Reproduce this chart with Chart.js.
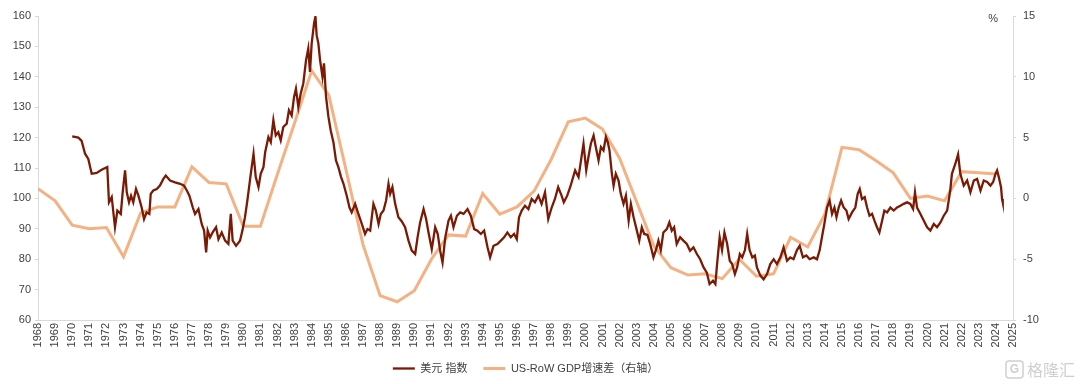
<!DOCTYPE html>
<html>
<head>
<meta charset="utf-8">
<script src="https://cdn.jsdelivr.net/npm/chart.js@4.4.1/dist/chart.umd.min.js"></script>
<style>
  html, body { margin: 0; padding: 0; background: #fff; }
</style>
</head>
<body>
<canvas id="graph" width="1080" height="384"></canvas>
<script>
const ctx = document.getElementById('graph');

const FONT = '"Liberation Sans", Arial, "Noto Sans CJK SC", sans-serif';
const TEXT_COLOR = '#3f3f3f';
const AXIS_COLOR = '#d9d9d9';

// 美元指数 (左轴)
const dxyYears = [
  1970.00, 1970.36, 1970.55, 1970.75, 1970.94, 1971.14, 1971.43, 1971.72, 1972.05, 1972.15,
  1972.31, 1972.50, 1972.64, 1972.84, 1972.95, 1973.09, 1973.19, 1973.32, 1973.44, 1973.57,
  1973.73, 1973.87, 1974.06, 1974.20, 1974.35, 1974.51, 1974.59, 1974.74, 1974.94, 1975.13,
  1975.33, 1975.47, 1975.72, 1976.01, 1976.31, 1976.54, 1976.70, 1976.85, 1977.05, 1977.18,
  1977.38, 1977.57, 1977.71, 1977.83, 1977.92, 1978.06, 1978.21, 1978.41, 1978.55, 1978.74,
  1978.94, 1979.13, 1979.27, 1979.38, 1979.58, 1979.81, 1979.95, 1980.10, 1980.24, 1980.44,
  1980.60, 1980.73, 1980.89, 1981.02, 1981.18, 1981.28, 1981.47, 1981.61, 1981.76, 1981.90,
  1982.05, 1982.19, 1982.34, 1982.54, 1982.67, 1982.83, 1982.97, 1983.08, 1983.22, 1983.36,
  1983.51, 1983.67, 1983.80, 1983.90, 1984.00, 1984.14, 1984.22, 1984.29, 1984.39, 1984.49,
  1984.63, 1984.72, 1984.84, 1984.98, 1985.11, 1985.27, 1985.42, 1985.56, 1985.72, 1985.86,
  1986.05, 1986.21, 1986.34, 1986.54, 1986.73, 1986.93, 1987.12, 1987.26, 1987.42, 1987.61,
  1987.75, 1987.91, 1988.04, 1988.20, 1988.35, 1988.49, 1988.59, 1988.72, 1988.88, 1989.07,
  1989.27, 1989.46, 1989.66, 1989.85, 1990.05, 1990.19, 1990.34, 1990.54, 1990.69, 1990.83,
  1991.02, 1991.22, 1991.37, 1991.51, 1991.65, 1991.81, 1992.00, 1992.14, 1992.29, 1992.49,
  1992.68, 1992.88, 1993.11, 1993.30, 1993.50, 1993.69, 1993.89, 1994.08, 1994.28, 1994.43,
  1994.63, 1994.86, 1995.06, 1995.25, 1995.44, 1995.64, 1995.83, 1995.99, 1996.12, 1996.28,
  1996.47, 1996.67, 1996.86, 1997.05, 1997.25, 1997.44, 1997.64, 1997.83, 1998.03, 1998.22,
  1998.41, 1998.61, 1998.74, 1998.94, 1999.13, 1999.40, 1999.60, 1999.89, 2000.05, 2000.18,
  2000.32, 2000.48, 2000.61, 2000.77, 2000.91, 2001.06, 2001.20, 2001.31, 2001.41, 2001.55,
  2001.65, 2001.78, 2001.94, 2002.07, 2002.23, 2002.37, 2002.53, 2002.66, 2002.82, 2003.01,
  2003.15, 2003.30, 2003.44, 2003.63, 2003.79, 2003.98, 2004.14, 2004.27, 2004.41, 2004.56,
  2004.76, 2004.91, 2005.05, 2005.19, 2005.34, 2005.54, 2005.73, 2005.93, 2006.12, 2006.32,
  2006.52, 2006.71, 2006.91, 2007.10, 2007.26, 2007.46, 2007.60, 2007.70, 2007.85, 2007.99,
  2008.13, 2008.29, 2008.44, 2008.58, 2008.74, 2008.87, 2009.03, 2009.17, 2009.33, 2009.46,
  2009.60, 2009.76, 2009.91, 2010.03, 2010.23, 2010.42, 2010.62, 2010.81, 2011.01, 2011.20,
  2011.40, 2011.59, 2011.79, 2011.98, 2012.17, 2012.37, 2012.53, 2012.72, 2012.92, 2013.11,
  2013.35, 2013.54, 2013.70, 2013.83, 2013.97, 2014.13, 2014.28, 2014.42, 2014.56, 2014.68,
  2014.81, 2014.95, 2015.10, 2015.26, 2015.39, 2015.59, 2015.78, 2015.92, 2016.04, 2016.17,
  2016.33, 2016.47, 2016.61, 2016.76, 2016.90, 2017.05, 2017.19, 2017.35, 2017.48, 2017.64,
  2017.83, 2018.03, 2018.22, 2018.42, 2018.61, 2018.81, 2019.00, 2019.16, 2019.27, 2019.39,
  2019.59, 2019.78, 2019.98, 2020.17, 2020.37, 2020.56, 2020.76, 2020.95, 2021.15, 2021.33,
  2021.43, 2021.63, 2021.79, 2021.92, 2022.12, 2022.32, 2022.51, 2022.71, 2022.90, 2023.10,
  2023.29, 2023.49, 2023.68, 2023.84, 2023.98, 2024.07, 2024.17, 2024.30, 2024.36, 2024.40
];
const dxyValues = [
  120.4, 120.0, 118.9, 114.7, 113.0, 108.1, 108.4, 109.4, 110.3, 98.7,
  100.4, 90.5, 96.0, 94.9, 102.0, 109.2, 102.0, 98.7, 100.9, 98.7,
  103.1, 100.9, 97.0, 93.2, 95.4, 94.9, 101.5, 102.6, 103.1, 104.2,
  106.4, 107.5, 105.9, 105.3, 104.8, 104.2, 102.6, 100.9, 97.0, 94.9,
  96.5, 91.6, 89.4, 82.2, 89.4, 87.2, 88.8, 90.5, 86.6, 88.8,
  86.1, 85.0, 94.9, 86.1, 84.4, 86.1, 89.4, 93.8, 99.3, 108.1,
  114.7, 107.0, 103.7, 108.1, 110.3, 115.2, 120.2, 118.5, 125.7, 120.7,
  121.8, 119.1, 123.5, 124.6, 129.0, 127.3, 133.4, 136.1, 130.1, 134.5,
  137.8, 145.5, 149.3, 141.6, 151.0, 157.6, 159.8, 153.7, 151.0, 145.5,
  140.0, 144.4, 133.4, 126.8, 122.4, 118.5, 112.5, 110.3, 107.0, 104.8,
  100.9, 97.0, 95.4, 98.2, 94.9, 91.6, 88.3, 89.9, 89.4, 98.2,
  96.0, 91.6, 94.9, 96.0, 99.3, 104.8, 101.5, 103.7, 98.2, 93.8,
  92.4, 90.5, 86.1, 82.8, 81.7, 87.2, 92.1, 96.5, 93.2, 88.8,
  83.3, 90.5, 88.3, 82.8, 78.9, 87.2, 92.7, 94.3, 90.5, 94.3,
  95.4, 94.9, 96.5, 94.3, 89.9, 89.4, 88.3, 89.4, 83.9, 80.6,
  84.4, 85.0, 86.1, 87.2, 88.8, 87.2, 88.3, 86.6, 93.8, 96.0,
  97.6, 96.5, 99.8, 98.7, 100.9, 98.2, 102.0, 93.2, 97.0, 99.8,
  103.7, 100.9, 98.7, 100.9, 104.0, 109.2, 107.0, 118.0, 109.2, 113.6,
  118.0, 120.7, 116.9, 112.5, 116.9, 115.8, 120.2, 118.5, 115.8, 108.1,
  104.2, 108.1, 105.9, 101.5, 98.2, 100.9, 92.7, 98.2, 93.8, 89.4,
  86.1, 90.5, 88.3, 88.0, 85.0, 80.6, 83.3, 86.1, 83.0, 88.8,
  89.9, 92.1, 89.4, 90.5, 85.0, 87.2, 86.1, 85.0, 82.8, 83.9,
  81.7, 80.0, 77.3, 75.6, 71.8, 72.9, 71.8, 78.4, 87.2, 83.0,
  88.8, 85.0, 79.5, 78.4, 75.1, 77.3, 81.7, 80.6, 83.0, 88.3,
  83.0, 80.6, 81.2, 77.3, 74.6, 73.4, 75.1, 78.4, 80.0, 78.4,
  80.6, 83.9, 79.5, 80.6, 80.0, 83.0, 84.4, 80.6, 81.2, 80.0,
  80.6, 80.0, 83.0, 87.2, 91.6, 97.0, 99.3, 94.9, 97.0, 93.8,
  97.0, 99.3, 97.0, 96.0, 93.2, 95.4, 97.0, 101.5, 103.1, 99.8,
  100.4, 97.0, 94.3, 94.9, 92.7, 90.5, 88.8, 92.7, 96.0, 95.4,
  97.0, 96.0, 97.0, 97.6, 98.2, 98.7, 98.2, 96.5, 102.0, 97.0,
  94.9, 92.7, 90.5, 89.4, 91.6, 90.5, 92.1, 94.3, 96.0, 102.6,
  108.1, 111.4, 114.5, 108.1, 104.2, 105.9, 102.0, 105.9, 106.4, 102.6,
  105.9, 105.4, 104.2, 105.4, 108.1, 109.2, 107.0, 103.7, 99.8, 98.7
];

// US-RoW GDP增速差 (右轴, %)
const gdpYears = [
  1968, 1969, 1970, 1971, 1972, 1973, 1974, 1975, 1976, 1977,
  1978, 1979, 1980, 1981, 1982, 1983, 1984, 1985, 1986, 1987,
  1988, 1989, 1990, 1991, 1992, 1993, 1994, 1995, 1996, 1997,
  1998, 1999, 2000, 2001, 2002, 2003, 2004, 2005, 2006, 2007,
  2008, 2009, 2010, 2011, 2012, 2013, 2014, 2015, 2016, 2017,
  2018, 2019, 2020, 2021, 2022, 2023, 2024
];
const gdpValues = [
  0.8, -0.2, -2.2, -2.5, -2.4, -4.8, -1.2, -0.7, -0.7, 2.6,
  1.3, 1.2, -2.3, -2.3, 2.0, 6.2, 10.5, 8.5, 2.4, -3.8,
  -8.0, -8.5, -7.6, -5.0, -3.0, -3.1, 0.4, -1.3, -0.7, 0.6,
  3.2, 6.3, 6.6, 5.7, 3.3, -0.3, -3.9, -5.7, -6.3, -6.2,
  -6.6, -5.0, -6.4, -6.2, -3.2, -4.0, -1.3, 4.2, 4.0, 3.1,
  2.1, 0.0, 0.2, -0.2, 2.2, 2.1, 2.0
];

const leftTicks = { min: 60, max: 160, step: 10 };
const rightTicks = { min: -10, max: 15, step: 5 };
const yearRange = { min: 1968, max: 2025 };

const labelNames = ['美元 指数', 'US-RoW GDP增速差（右轴）'];

function toXY(xs, ys) {
  return xs.map((x, i) => ({ x: x, y: ys[i] }));
}

// "%" 单位 and watermark
const extraText = {
  id: 'extraText',
  afterDraw(chart) {
    const c = chart.ctx;
    const area = chart.chartArea;
    c.save();
    c.fillStyle = TEXT_COLOR;
    c.font = '11px ' + FONT;
    c.textAlign = 'right';
    c.textBaseline = 'middle';
    c.fillText('%', area.right - 15, area.top + 3);

    c.strokeStyle = '#cfcfcf';
    c.lineWidth = 1.5;
    c.beginPath();
    c.roundRect(1006, 361, 17, 17, 3);
    c.stroke();
    c.fillStyle = '#cfcfcf';
    c.font = 'bold 12px ' + FONT;
    c.textAlign = 'center';
    c.fillText('G', 1014.5, 370);
    c.font = '16px "Noto Sans CJK SC", sans-serif';
    c.textAlign = 'left';
    c.fillText('格隆汇', 1027, 370);
    c.restore();
  }
};

const chart = new Chart(ctx, {
  type: 'line',
  data: {
    datasets: [{
      label: labelNames[0],
      data: toXY(dxyYears, dxyValues),
      yAxisID: 'yL',
      borderColor: '#7b1a04',
      backgroundColor: '#7b1a04',
      borderWidth: 2.3,
      pointRadius: 0,
      tension: 0
    }, {
      label: labelNames[1],
      data: toXY(gdpYears, gdpValues),
      yAxisID: 'yR',
      borderColor: '#f4b183',
      backgroundColor: '#f4b183',
      borderWidth: 3,
      pointRadius: 0,
      tension: 0
    }]
  },
  options: {
    responsive: false,
    animation: false,
    layout: { padding: { top: 16, left: 0, right: 0, bottom: 0 } },
    plugins: {
      legend: {
        position: 'bottom',
        fullSize: false, // 居中于绘图区
        labels: {
          usePointStyle: true,
          pointStyle: 'line',
          pointStyleWidth: 22,
          color: TEXT_COLOR,
          font: { family: FONT, size: 11 },
          padding: 16
        }
      },
      tooltip: { enabled: false }
    },
    scales: {
      x: {
        type: 'linear',
        min: yearRange.min,
        max: yearRange.max,
        grid: { drawOnChartArea: false, drawTicks: false },
        border: { color: AXIS_COLOR },
        ticks: {
          stepSize: 1,
          autoSkip: false,
          minRotation: 90,
          maxRotation: 90,
          padding: 3,
          color: TEXT_COLOR,
          font: { family: FONT, size: 11 },
          callback: (v) => String(Math.round(v))
        },
        afterFit: (scale) => { scale.height = 27; }
      },
      yL: {
        position: 'left',
        min: leftTicks.min,
        max: leftTicks.max,
        grid: { drawOnChartArea: false, tickLength: 3, color: AXIS_COLOR },
        border: { color: AXIS_COLOR },
        ticks: {
          stepSize: leftTicks.step,
          padding: 4,
          color: TEXT_COLOR,
          font: { family: FONT, size: 11 }
        },
        afterFit: (scale) => { scale.width = 38; }
      },
      yR: {
        position: 'right',
        min: rightTicks.min,
        max: rightTicks.max,
        grid: { drawOnChartArea: false, tickLength: 3, color: AXIS_COLOR },
        border: { color: AXIS_COLOR },
        ticks: {
          stepSize: rightTicks.step,
          padding: 7,
          color: TEXT_COLOR,
          font: { family: FONT, size: 11 }
        },
        afterFit: (scale) => { scale.width = 67; }
      }
    }
  },
  plugins: [extraText]
});
</script>
</body>
</html>
